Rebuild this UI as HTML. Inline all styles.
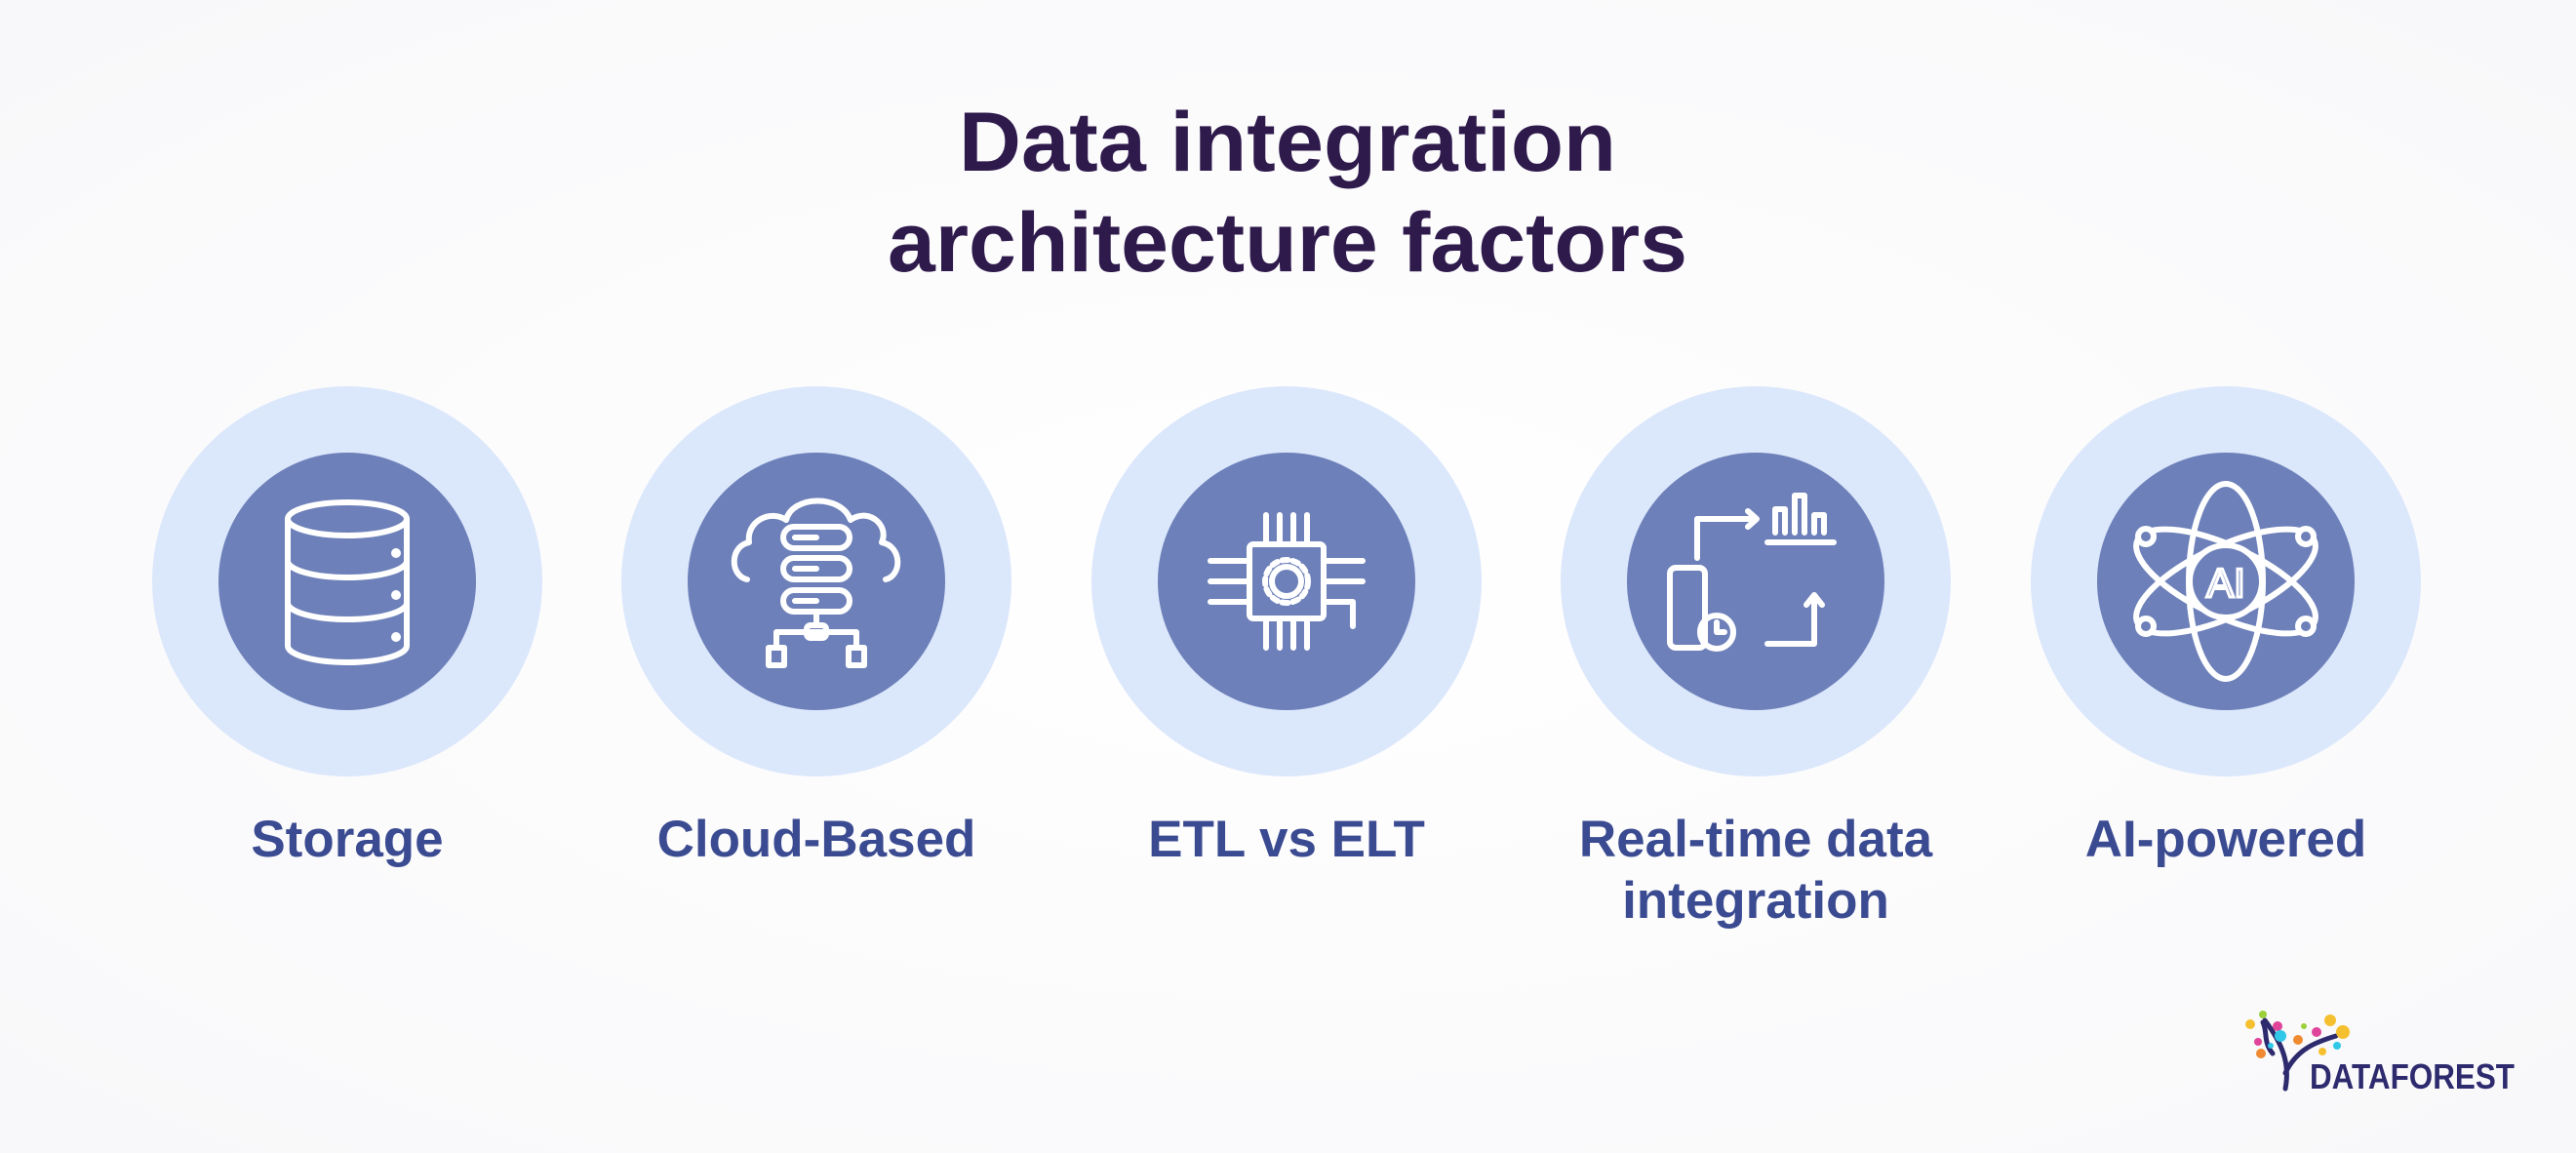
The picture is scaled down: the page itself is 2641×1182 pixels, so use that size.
<!DOCTYPE html>
<html><head><meta charset="utf-8"><style>
html,body{margin:0;padding:0;background:#fdfdfe;}
svg{display:block}
</style></head><body>
<svg width="2641" height="1182" viewBox="0 0 2641 1182" xmlns="http://www.w3.org/2000/svg">
<defs><radialGradient id="bg" cx="0.5" cy="0.5" r="0.7"><stop offset="0" stop-color="#ffffff"/><stop offset="1" stop-color="#f8f8fa"/></radialGradient></defs>
<rect width="2641" height="1182" fill="url(#bg)"/>
<g font-family="Liberation Sans, sans-serif" font-weight="bold" text-anchor="middle">
<text x="1320" y="175" font-size="86" fill="#2f1a4c" textLength="674" lengthAdjust="spacingAndGlyphs">Data integration</text>
<text x="1320" y="278" font-size="86" fill="#2f1a4c" textLength="820" lengthAdjust="spacingAndGlyphs">architecture factors</text>
<g font-size="53" fill="#3b4b91">
<text x="356" y="878">Storage</text>
<text x="837" y="878">Cloud-Based</text>
<text x="1319" y="878">ETL vs ELT</text>
<text x="1800" y="878">Real-time data</text>
<text x="1800" y="941">integration</text>
<text x="2282" y="878">AI-powered</text>
</g></g>
<g fill="#dbe7fb">
<circle cx="356" cy="596" r="200"/><circle cx="837" cy="596" r="200"/><circle cx="1319" cy="596" r="200"/><circle cx="1800" cy="596" r="200"/><circle cx="2282" cy="596" r="200"/>
</g>
<g fill="#6d80b9">
<circle cx="356" cy="596" r="132"/><circle cx="837" cy="596" r="132"/><circle cx="1319" cy="596" r="132"/><circle cx="1800" cy="596" r="132"/><circle cx="2282" cy="596" r="132"/>
</g>
<g fill="none" stroke="#fff" stroke-width="6" stroke-linecap="round" stroke-linejoin="round">
<ellipse cx="356" cy="532" rx="61" ry="17"/>
<path d="M295 532 V662 A61 17 0 0 0 417 662 V532"/>
<path d="M295 575 A61 17 0 0 0 417 575 M295 618 A61 17 0 0 0 417 618"/>
<circle cx="406" cy="567" r="2" fill="#fff"/><circle cx="406" cy="610" r="2" fill="#fff"/><circle cx="406" cy="653" r="2" fill="#fff"/>
<path d="M766 594 C748 590 748 560 768 556 C765 534 790 522 806 533 C812 508 862 506 872 533 C890 520 912 538 904 556 C925 560 925 590 908 594"/>
<rect x="803" y="540" width="68" height="22" rx="11"/><rect x="803" y="572" width="68" height="22" rx="11"/><rect x="803" y="605" width="68" height="22" rx="11"/>
<path d="M815 551h22 M815 583h22 M815 616h22"/>
<path d="M837 627v14 M796 648h82 M796 648v16 M878 648v16"/>
<rect x="827" y="641" width="20" height="13" rx="4"/>
<rect x="788" y="664" width="16" height="18"/><rect x="870" y="664" width="16" height="18"/>
<rect x="1281" y="558" width="76" height="76" rx="4"/>
<circle cx="1319" cy="596" r="15"/><circle cx="1319" cy="596" r="22" stroke-dasharray="6 5"/>
<path d="M1298 558v-30 M1312 558v-30 M1326 558v-30 M1340 558v-30 M1298 634v30 M1312 634v30 M1326 634v30 M1340 634v30"/>
<path d="M1281 575h-40 M1281 596h-40 M1281 617h-40 M1357 575h40 M1357 596h40 M1357 617h30v25"/>
<rect x="1712" y="582" width="36" height="82" rx="6"/>
<circle cx="1760" cy="648" r="17"/><path d="M1760 638v10h8"/>
<path d="M1740 572v-40h60 M1792 524l9 8-9 8"/>
<path d="M1812 556h68 M1820 546v-24h10v24 M1840 546v-38h10v38 M1860 546v-18h10v18"/>
<path d="M1812 660h48v-48 M1852 620l8-10 8 10"/>
<ellipse cx="2282" cy="596" rx="38" ry="100"/>
<ellipse cx="2282" cy="596" rx="100" ry="36" transform="rotate(25 2282 596)"/>
<ellipse cx="2282" cy="596" rx="100" ry="36" transform="rotate(-25 2282 596)"/>
<circle cx="2282" cy="596" r="37" fill="#6d80b9"/>
<circle cx="2200" cy="550" r="8" fill="#6d80b9"/><circle cx="2364" cy="550" r="8" fill="#6d80b9"/>
<circle cx="2200" cy="642" r="8" fill="#6d80b9"/><circle cx="2364" cy="642" r="8" fill="#6d80b9"/>
</g>
<text x="2282" y="612" font-family="Liberation Sans, sans-serif" font-size="42" fill="none" stroke="#fff" stroke-width="3" text-anchor="middle">AI</text>
<g stroke="#2e2a6e" stroke-width="5" fill="none" stroke-linecap="round">
<path d="M2343 1116 C2348 1090 2340 1070 2322 1046 M2343 1100 C2355 1075 2375 1068 2395 1062 M2330 1080 C2320 1068 2325 1058 2320 1048"/>
</g>
<g>
<circle cx="2307" cy="1050" r="5" fill="#f5c030"/><circle cx="2320" cy="1040" r="4" fill="#9ad03a"/><circle cx="2335" cy="1052" r="5" fill="#e0449a"/>
<circle cx="2338" cy="1062" r="6" fill="#30c8e8"/><circle cx="2356" cy="1066" r="5" fill="#f08a30"/><circle cx="2375" cy="1058" r="5" fill="#e0449a"/>
<circle cx="2389" cy="1046" r="6" fill="#f5c030"/><circle cx="2402" cy="1058" r="7" fill="#f5c030"/><circle cx="2396" cy="1072" r="4" fill="#30c8e8"/>
<circle cx="2318" cy="1080" r="5" fill="#f08a30"/><circle cx="2315" cy="1068" r="4" fill="#e0449a"/><circle cx="2381" cy="1078" r="4" fill="#f5c030"/>
<circle cx="2362" cy="1052" r="3" fill="#9ad03a"/><circle cx="2328" cy="1072" r="3" fill="#30c8e8"/>
</g>
<text x="2368" y="1116" font-family="Liberation Sans, sans-serif" font-size="36" font-weight="bold" fill="#2e2a6e" textLength="210" lengthAdjust="spacingAndGlyphs">DATAFOREST</text>
</svg>
</body></html>
